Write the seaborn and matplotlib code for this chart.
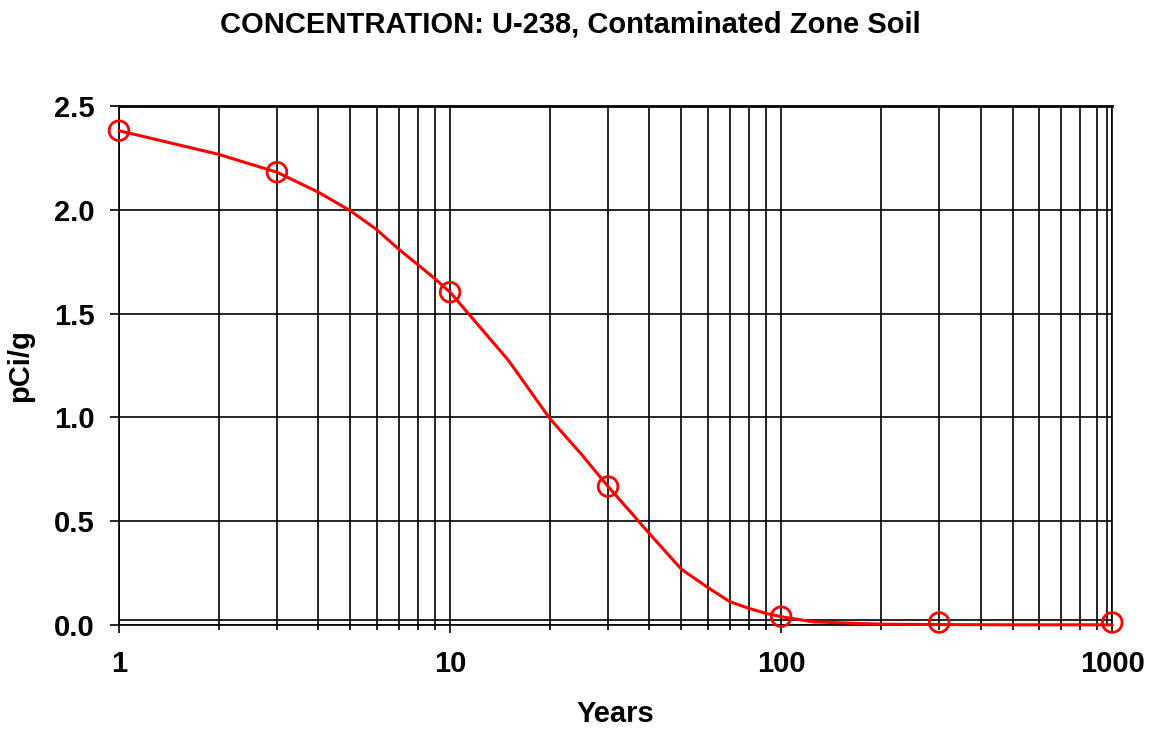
import matplotlib
matplotlib.use("Agg")
import matplotlib.pyplot as plt
import matplotlib.ticker as mticker
import pandas as pd
import seaborn as sns

# calculated points (open circles)
marker_years = [1, 3, 10, 30, 100, 300, 1000]
marker_conc = [2.381, 2.181, 1.603, 0.667, 0.040, 0.012, 0.012]

# smooth curve
curve_years = [1, 2, 3, 4, 5, 6, 7, 8, 9, 10, 15, 20, 25, 30, 35, 40, 50, 60, 70, 80, 90,
               100, 125, 200, 300, 500, 1000]
curve_conc = [2.381, 2.267, 2.181, 2.085, 1.995, 1.905, 1.81, 1.735, 1.668, 1.603,
              1.275, 0.995, 0.82, 0.667, 0.546, 0.44, 0.268, 0.181, 0.112, 0.08, 0.056,
              0.040, 0.015, 0.004, 0.002, 0.001, 0.001]

y_ticks = [0.0, 0.5, 1.0, 1.5, 2.0, 2.5]
x_ticks = [1, 10, 100, 1000]
x_labels = ["1", "10", "100", "1000"]

# the two extra frame lines just inside the bottom/right edges
inner_y = 0.026
inner_x = 964

sns.set_style("white")
plt.rcParams['font.family'] = ['Liberation Sans', 'DejaVu Sans']
plt.rcParams['font.weight'] = 'bold'
plt.rcParams['text.color'] = 'black'
plt.rcParams['axes.labelcolor'] = 'black'
plt.rcParams['xtick.color'] = 'black'
plt.rcParams['ytick.color'] = 'black'

curve = pd.DataFrame({"Years": curve_years, "pCi/g": curve_conc})
points = pd.DataFrame({"Years": marker_years, "pCi/g": marker_conc})

fig = plt.figure(figsize=(11.55, 7.31), dpi=100)
ax = fig.add_axes([0.103, 0.145, 0.860, 0.710])

ax.set_xscale("log")
ax.set_xlim(1, 1000)
ax.set_ylim(0, 2.5)

# grid
ax.xaxis.set_major_locator(mticker.FixedLocator(x_ticks))
ax.xaxis.set_minor_locator(mticker.LogLocator(base=10, subs=range(2, 10)))
ax.xaxis.set_minor_formatter(mticker.NullFormatter())
ax.set_xticks(x_ticks, x_labels)
ax.set_yticks(y_ticks, [f"{v:.1f}" for v in y_ticks])
ax.grid(True, which="major", axis="both", color="black", lw=1.2)
ax.grid(True, which="minor", axis="x", color="black", lw=1.2)
ax.axhline(inner_y, color="black", lw=1.2, zorder=1)
ax.axvline(inner_x, color="black", lw=1.2, zorder=1)

sns.lineplot(data=curve, x="Years", y="pCi/g", color="red", lw=2.2, ax=ax,
             zorder=3, clip_on=False)
sns.scatterplot(data=points, x="Years", y="pCi/g", marker="o", s=200,
                facecolor="none", edgecolor="red", linewidth=2, ax=ax,
                zorder=4, clip_on=False)

for side in ["left", "bottom", "right"]:
    ax.spines[side].set_color("black")
    ax.spines[side].set_linewidth(1.2)
ax.spines["top"].set_color("black")
ax.spines["top"].set_linewidth(2)

ax.tick_params(axis="x", which="major", direction="out", length=6, width=1.2,
               pad=12, labelsize=21, bottom=True, colors="black")
ax.tick_params(axis="x", which="minor", direction="out", length=3.5, width=1.2,
               bottom=True, colors="black")
ax.tick_params(axis="y", which="major", direction="out", length=6.5, width=1.2,
               pad=11, labelsize=21, left=True, colors="black")

ax.set_xlabel("Years", fontsize=21, fontweight="bold", labelpad=16, color="black")
ax.set_ylabel("pCi/g", fontsize=21, fontweight="bold", labelpad=14, color="black")

fig.suptitle("CONCENTRATION: U-238, Contaminated Zone Soil", fontsize=21,
             fontweight="bold", x=0.494, y=0.985, color="black")

fig.savefig("out.png", dpi=100)
